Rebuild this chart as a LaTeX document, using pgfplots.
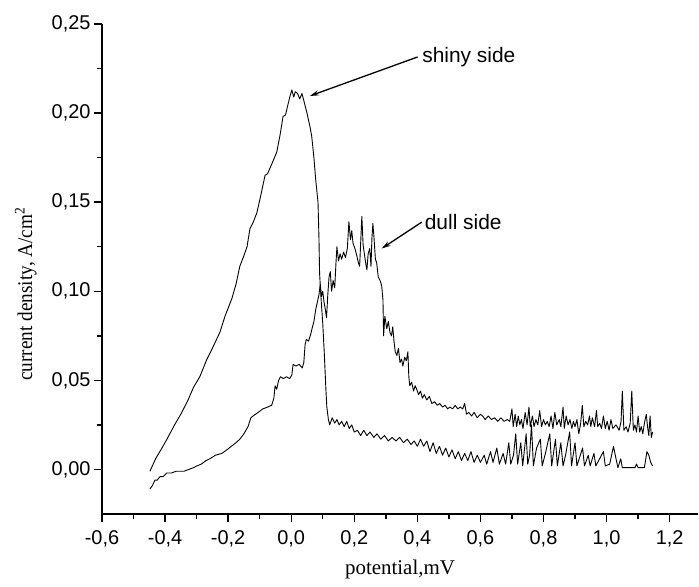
\documentclass[border=0pt]{standalone}
\usepackage{pgfplots}
\pgfplotsset{compat=1.18}
\usepackage{fontspec}
\setmainfont{Liberation Serif}
\newfontfamily\arial{Liberation Sans}
\usetikzlibrary{arrows.meta}

\begin{document}
\begin{tikzpicture}
\begin{axis}[
  scale only axis, width=596bp, height=490bp,
  xmin=-0.6, xmax=1.29, ymin=-0.025, ymax=0.25,
  clip=false,
  axis lines*=left,
  axis line style={line width=1.6bp},
  every tick/.style={black, line width=1.4bp},
  tick align=outside,
  major tick length=8bp, minor tick length=5bp,
  xtick={-0.6,-0.4,-0.2,0,0.2,0.4,0.6,0.8,1.0,1.2},
  ytick={0,0.05,0.10,0.15,0.20,0.25},
  minor x tick num=1, minor y tick num=1,
  scaled ticks=false,
  ticklabel style={font=\arial\fontsize{20}{22}\selectfont},
  /pgf/number format/assume math mode=true,
  /pgf/number format/use comma,
  xticklabel style={yshift=-5bp, /pgf/number format/fixed, /pgf/number format/fixed zerofill, /pgf/number format/precision=1},
  yticklabel style={/pgf/number format/fixed, /pgf/number format/fixed zerofill, /pgf/number format/precision=2},
  label style={font=\fontsize{21}{24}\selectfont},
  xlabel={potential,mV},
  xlabel style={at={(rel axis cs:0.5,-0.114)}, anchor=center},
]
\coordinate (bl) at (rel axis cs:0,0);
\coordinate (tr) at (rel axis cs:1,1);

% shiny side
\addplot[black, line width=0.9bp, line join=round, mark=none] coordinates {
(-0.448,-0.001) (-0.43,0.006) (-0.41,0.012) (-0.394,0.017) (-0.37,0.025)
(-0.35,0.031) (-0.327,0.039) (-0.31,0.046) (-0.29,0.052) (-0.267,0.062)
(-0.25,0.068) (-0.226,0.077) (-0.21,0.086) (-0.188,0.096) (-0.175,0.104)
(-0.163,0.114) (-0.15,0.120) (-0.14,0.125) (-0.131,0.135) (-0.12,0.139)
(-0.109,0.144) (-0.095,0.155) (-0.083,0.165) (-0.075,0.166) (-0.065,0.170)
(-0.046,0.178) (-0.035,0.188) (-0.026,0.198) (-0.018,0.199) (-0.010,0.205)
(-0.003,0.210) (0.002,0.213) (0.008,0.209) (0.013,0.212) (0.020,0.211)
(0.027,0.208) (0.034,0.211) (0.040,0.207) (0.050,0.200) (0.060,0.192)
(0.065,0.187) (0.072,0.175) (0.078,0.162) (0.085,0.150) (0.088,0.130)
(0.090,0.110) (0.095,0.095) (0.100,0.082) (0.105,0.065) (0.110,0.045)
(0.113,0.035) (0.118,0.028) (0.122,0.025) (0.130,0.029) (0.138,0.026)
(0.145,0.028) (0.152,0.025) (0.160,0.027) (0.168,0.024) (0.176,0.027)
(0.184,0.023) (0.192,0.025) (0.200,0.021) (0.210,0.022) (0.220,0.019)
(0.230,0.022) (0.240,0.019) (0.250,0.021) (0.262,0.018) (0.272,0.020)
(0.284,0.017) (0.296,0.019) (0.308,0.016) (0.320,0.018) (0.332,0.016)
(0.344,0.018) (0.356,0.015) (0.368,0.017) (0.380,0.014) (0.390,0.016)
(0.400,0.013) (0.410,0.017) (0.420,0.013) (0.430,0.016) (0.440,0.010)
(0.450,0.015) (0.460,0.009) (0.470,0.013) (0.480,0.008) (0.490,0.012)
(0.500,0.007) (0.510,0.011) (0.520,0.006) (0.530,0.010) (0.540,0.005)
(0.550,0.009) (0.560,0.005) (0.570,0.010) (0.580,0.004) (0.590,0.008)
(0.600,0.004) (0.612,0.008) (0.620,0.003) (0.632,0.010) (0.640,0.004)
(0.652,0.012) (0.660,0.003) (0.672,0.009) (0.680,0.003) (0.690,0.015)
(0.696,0.003) (0.705,0.008) (0.712,0.020) (0.718,0.003) (0.728,0.015)
(0.734,0.002) (0.745,0.020) (0.750,0.003) (0.756,0.008) (0.762,0.025)
(0.768,0.002) (0.778,0.012) (0.790,0.017) (0.796,0.002) (0.806,0.009)
(0.820,0.020) (0.826,0.002) (0.838,0.017) (0.844,0.002) (0.855,0.015)
(0.862,0.002) (0.870,0.008) (0.883,0.021) (0.889,0.002) (0.900,0.015)
(0.906,0.002) (0.915,0.007) (0.924,0.012) (0.930,0.002) (0.942,0.008)
(0.948,0.002) (0.960,0.009) (0.966,0.002) (0.978,0.006) (0.990,0.010)
(0.996,0.002) (1.010,0.003) (1.022,0.013) (1.030,0.006) (1.036,0.001)
(1.045,0.006) (1.050,0.001) (1.090,0.001) (1.095,0.003) (1.100,0.001)
(1.120,0.001) (1.128,0.010) (1.134,0.008) (1.140,0.004) (1.146,0.002)
};

% dull side
\addplot[black, line width=0.9bp, line join=round, mark=none] coordinates {
(-0.448,-0.011) (-0.440,-0.009) (-0.432,-0.006) (-0.425,-0.006) (-0.416,-0.004)
(-0.406,-0.004) (-0.395,-0.002) (-0.380,-0.002) (-0.365,-0.001) (-0.353,-0.001)
(-0.340,-0.001) (-0.325,0.000) (-0.310,0.001) (-0.299,0.002) (-0.285,0.003)
(-0.270,0.005) (-0.258,0.006) (-0.240,0.008) (-0.220,0.009) (-0.204,0.011)
(-0.190,0.013) (-0.175,0.015) (-0.163,0.017) (-0.150,0.020) (-0.137,0.024)
(-0.128,0.029) (-0.121,0.030) (-0.105,0.032) (-0.090,0.034) (-0.075,0.035)
(-0.062,0.036) (-0.055,0.040) (-0.051,0.047) (-0.046,0.045) (-0.040,0.050)
(-0.034,0.052) (-0.025,0.051) (-0.015,0.052) (-0.005,0.051) (0.002,0.053)
(0.006,0.059) (0.015,0.058) (0.025,0.059) (0.035,0.057) (0.040,0.060)
(0.044,0.070) (0.048,0.073) (0.055,0.072) (0.062,0.076) (0.066,0.079)
(0.072,0.083) (0.078,0.090) (0.083,0.094) (0.088,0.098) (0.092,0.104)
(0.096,0.097) (0.100,0.100) (0.104,0.094) (0.108,0.090) (0.112,0.085)
(0.116,0.098) (0.120,0.108) (0.124,0.111) (0.128,0.100) (0.133,0.106)
(0.138,0.102) (0.142,0.116) (0.145,0.125) (0.150,0.117) (0.155,0.121)
(0.160,0.118) (0.166,0.122) (0.172,0.119) (0.178,0.124) (0.183,0.139)
(0.188,0.129) (0.192,0.134) (0.196,0.127) (0.202,0.124) (0.208,0.120)
(0.213,0.116) (0.217,0.114) (0.221,0.130) (0.224,0.142) (0.228,0.126)
(0.232,0.121) (0.236,0.116) (0.240,0.112) (0.244,0.121) (0.249,0.124)
(0.253,0.114) (0.256,0.130) (0.259,0.138) (0.263,0.129) (0.267,0.118)
(0.271,0.116) (0.276,0.108) (0.282,0.106) (0.287,0.103) (0.291,0.095)
(0.293,0.075) (0.297,0.086) (0.303,0.079) (0.308,0.083) (0.313,0.077)
(0.318,0.075) (0.322,0.080) (0.326,0.072) (0.330,0.066) (0.335,0.064)
(0.340,0.068) (0.345,0.060) (0.350,0.062) (0.354,0.058) (0.360,0.063)
(0.365,0.061) (0.370,0.066) (0.373,0.052) (0.376,0.047) (0.382,0.049)
(0.388,0.044) (0.393,0.047) (0.398,0.045) (0.404,0.042) (0.410,0.044)
(0.416,0.040) (0.422,0.042) (0.430,0.039) (0.438,0.041) (0.446,0.037)
(0.455,0.038) (0.463,0.036) (0.471,0.037) (0.480,0.035) (0.488,0.036)
(0.496,0.034) (0.503,0.035) (0.512,0.034) (0.520,0.036) (0.528,0.034)
(0.536,0.035) (0.544,0.034) (0.550,0.037) (0.556,0.031) (0.563,0.032)
(0.572,0.030) (0.580,0.032) (0.590,0.029) (0.600,0.031) (0.607,0.030)
(0.615,0.028) (0.625,0.030) (0.635,0.028) (0.645,0.029) (0.655,0.027)
(0.665,0.029) (0.675,0.027) (0.685,0.028) (0.693,0.027) (0.700,0.034)
(0.704,0.024) (0.710,0.031) (0.715,0.024) (0.720,0.030) (0.725,0.025)
(0.730,0.028) (0.735,0.023) (0.742,0.032) (0.748,0.025) (0.754,0.035)
(0.758,0.024) (0.765,0.030) (0.770,0.024) (0.776,0.028) (0.782,0.025)
(0.788,0.033) (0.794,0.024) (0.800,0.028) (0.806,0.025) (0.812,0.027)
(0.818,0.024) (0.824,0.030) (0.830,0.023) (0.836,0.032) (0.842,0.025)
(0.850,0.028) (0.855,0.024) (0.862,0.035) (0.866,0.023) (0.872,0.030)
(0.878,0.025) (0.884,0.028) (0.890,0.023) (0.895,0.027) (0.900,0.024)
(0.906,0.028) (0.912,0.020) (0.918,0.026) (0.923,0.036) (0.928,0.024)
(0.934,0.027) (0.940,0.025) (0.946,0.030) (0.950,0.024) (0.955,0.029)
(0.962,0.024) (0.968,0.033) (0.972,0.024) (0.978,0.026) (0.984,0.023)
(0.990,0.030) (0.996,0.023) (1.002,0.027) (1.008,0.022) (1.014,0.028)
(1.020,0.023) (1.030,0.025) (1.040,0.022) (1.046,0.027) (1.050,0.044)
(1.055,0.022) (1.062,0.024) (1.068,0.021) (1.075,0.026) (1.080,0.044)
(1.085,0.022) (1.090,0.025) (1.095,0.021) (1.100,0.030) (1.105,0.021)
(1.110,0.024) (1.115,0.020) (1.120,0.026) (1.126,0.031) (1.130,0.024)
(1.134,0.019) (1.138,0.030) (1.142,0.018) (1.146,0.021)
};

\node[rotate=90, anchor=center, font=\fontsize{21}{24}\selectfont] at (rel axis cs:-0.128,0.449) {\scalebox{0.92}[1]{current density, A/cm\textsuperscript{2}}};
\draw[line width=1.3bp, -{Stealth[length=9bp, width=5bp]}] (axis cs:0.401,0.2315) -- (axis cs:0.059,0.2096);
\node[anchor=west, inner sep=1bp, font=\arial\fontsize{21}{24}\selectfont] at (axis cs:0.412,0.2315) {shiny side};
\draw[line width=1.3bp, -{Stealth[length=9bp, width=5bp]}] (axis cs:0.414,0.1388) -- (axis cs:0.287,0.124);
\node[anchor=west, inner sep=1bp, font=\arial\fontsize{21}{24}\selectfont] at (axis cs:0.420,0.1388) {dull side};
\end{axis}
\pgfresetboundingbox
\path ([shift={(-102bp,-73bp)}]bl) rectangle ([shift={(1bp,24bp)}]tr);
\end{tikzpicture}
\end{document}
